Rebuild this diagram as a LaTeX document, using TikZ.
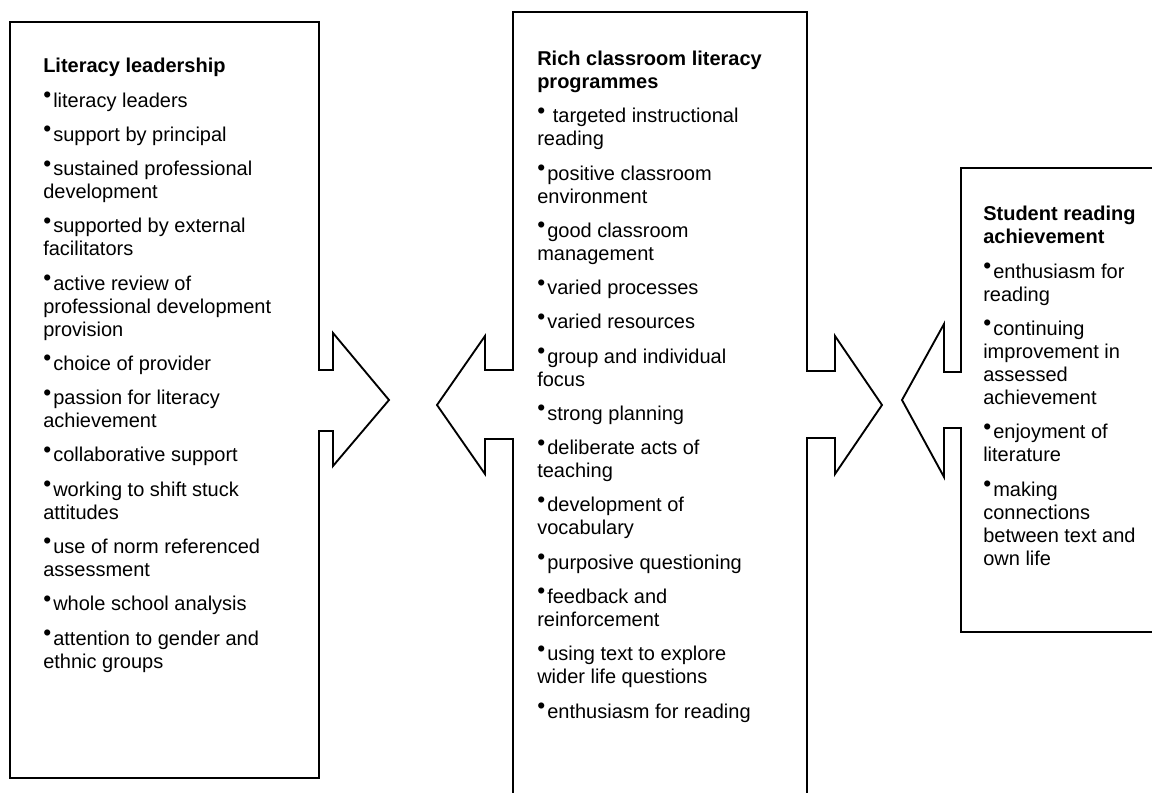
\documentclass[tikz,border=0pt]{standalone}
\usepackage{fontspec}
\setmainfont{Liberation Sans}
\newcommand\bul{\makebox[7.5pt][l]{\raisebox{3.4pt}{\fontsize{17pt}{17pt}\selectfont •}}}
\tikzset{
  panel/.style={draw=black, line width=1.4pt, line join=miter, fill=white},
  txt/.style={anchor=base west, inner sep=0pt, align=left,
    font=\fontsize{15pt}{17.25pt}\selectfont},
}
\newcommand\gap{\\[8.45pt]}
\begin{document}
\begin{tikzpicture}[x=0.75pt,y=-0.75pt]
\useasboundingbox (0,0) rectangle (1152,792);
\clip (0,0) rectangle (1152,792);
% left box with right-pointing arrow
\draw[panel] (10,22) -- (319,22) -- (319,370) -- (333,370) -- (333,333) -- (389,400)
  -- (333,466) -- (333,431) -- (319,431) -- (319,778) -- (10,778) -- cycle;
% middle box with arrows on both sides
\draw[panel] (513,12) -- (807,12) -- (807,371) -- (835,371) -- (835,336) -- (882,405)
  -- (835,474) -- (835,438) -- (807,438) -- (807,805) -- (513,805) -- (513,439)
  -- (485,439) -- (485,474) -- (437,405) -- (485,336) -- (485,370) -- (513,370) -- cycle;
% right box with left-pointing arrow
\draw[panel] (1165,168) -- (961,168) -- (961,372) -- (944,372) -- (944,324) -- (902,400)
  -- (944,477) -- (944,428) -- (961,428) -- (961,632) -- (1165,632);

% nodes are placed by the baseline of their last line
\node[txt] (lead) at (43,668) {\textbf{Literacy leadership}\gap
\bul literacy leaders\gap
\bul support by principal\gap
\bul sustained professional\\development\gap
\bul supported by external\\facilitators\gap
\bul active review of\\professional development\\provision\gap
\bul choice of provider\gap
\bul passion for literacy\\achievement\gap
\bul collaborative support\gap
\bul working to shift stuck\\attitudes\gap
\bul use of norm referenced\\assessment\gap
\bul whole school analysis\gap
\bul attention to gender and\\ethnic groups};

\node[txt] (prog) at (537,718) {\textbf{Rich classroom literacy}\\\textbf{programmes}\gap
\bul\ targeted instructional\\reading\gap
\bul positive classroom\\environment\gap
\bul good classroom\\management\gap
\bul varied processes\gap
\bul varied resources\gap
\bul group and individual\\focus\gap
\bul strong planning\gap
\bul deliberate acts of\\teaching\gap
\bul development of\\vocabulary\gap
\bul purposive questioning\gap
\bul feedback and\\reinforcement\gap
\bul using text to explore\\wider life questions\gap
\bul enthusiasm for reading};

\node[txt] (ach) at (983,565) {\textbf{Student reading}\\\textbf{achievement}\gap
\bul enthusiasm for\\reading\gap
\bul continuing\\improvement in\\assessed\\achievement\gap
\bul enjoyment of\\literature\gap
\bul making\\connections\\between text and\\own life};
\end{tikzpicture}
\end{document}
